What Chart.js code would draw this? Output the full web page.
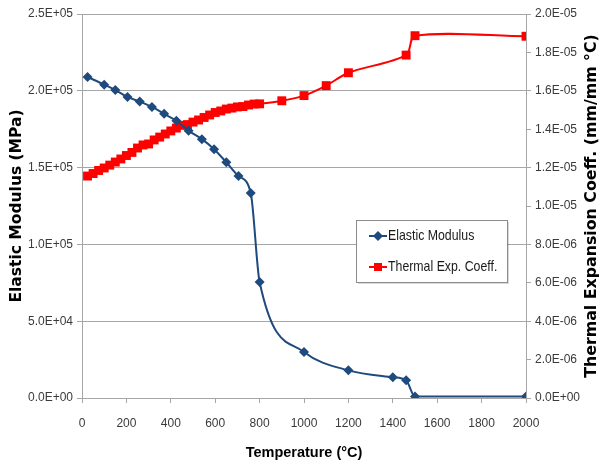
<!DOCTYPE html>
<html>
<head>
<meta charset="utf-8">
<script src="https://cdn.jsdelivr.net/npm/chart.js@4.4.1/dist/chart.umd.min.js"></script>
<style>
  html,body{margin:0;padding:0;background:#fff;}
  #wrap{width:601px;height:468px;}
</style>
</head>
<body>
<div id="wrap"><canvas id="chart" width="601" height="468"></canvas></div>
<script>
// temperature (C) / elastic modulus (MPa)
const modulusTemps = [25, 100, 150, 205, 260, 315, 370, 425, 480, 540, 595, 650, 705, 760, 800, 1000, 1200, 1400, 1460, 1500, 2000];
const modulusValues = [209000, 204000, 200500, 196000, 193000, 189500, 185000, 180500, 174000, 168500, 162000, 153500, 144500, 133500, 75500, 30000, 18000, 13500, 11500, 1000, 1000];

// temperature (C) / thermal expansion coefficient (mm/mm C)
const thermalTemps = [25, 50, 75, 100, 125, 150, 175, 200, 225, 250, 275, 300, 325, 350, 375, 400, 425, 450, 475, 500, 525, 550, 575, 600, 625, 650, 675, 700, 725, 750, 775, 800, 900, 1000, 1100, 1200, 1460, 1500, 2000];
const thermalValues = [1.156e-5, 1.169e-5, 1.185e-5, 1.198e-5, 1.213e-5, 1.229e-5, 1.245e-5, 1.263e-5, 1.279e-5, 1.302e-5, 1.318e-5, 1.323e-5, 1.344e-5, 1.359e-5, 1.375e-5, 1.391e-5, 1.406e-5, 1.420e-5, 1.424e-5, 1.437e-5, 1.448e-5, 1.461e-5, 1.474e-5, 1.487e-5, 1.495e-5, 1.505e-5, 1.510e-5, 1.516e-5, 1.518e-5, 1.526e-5, 1.531e-5, 1.532e-5, 1.548e-5, 1.575e-5, 1.627e-5, 1.694e-5, 1.786e-5, 1.887e-5, 1.884e-5];

const tempTicks = [0, 200, 400, 600, 800, 1000, 1200, 1400, 1600, 1800, 2000];
const tempTickLabels = ['0', '200', '400', '600', '800', '1000', '1200', '1400', '1600', '1800', '2000'];
const modulusTicks = [0, 50000, 100000, 150000, 200000, 250000];
const modulusTickLabels = ['0.0E+00', '5.0E+04', '1.0E+05', '1.5E+05', '2.0E+05', '2.5E+05'];
const thermalTicks = [0, 2e-6, 4e-6, 6e-6, 8e-6, 1e-5, 1.2e-5, 1.4e-5, 1.6e-5, 1.8e-5, 2e-5];
const thermalTickLabels = ['0.0E+00', '2.0E-06', '4.0E-06', '6.0E-06', '8.0E-06', '1.0E-05', '1.2E-05', '1.4E-05', '1.6E-05', '1.8E-05', '2.0E-05'];

const BLUE = '#1f4a7e';
const RED = '#ff0000';
const AXIS_GRAY = '#a6a6a6';
const TICK_FONT = {family: "'Liberation Sans', Arial, sans-serif", size: 12};
const TITLE_FAMILY = "'DejaVu Sans', Verdana, sans-serif";

function toPoints(xs, ys){
     let pts = [];
     for(let i = 0; i < xs.length; i++){ pts.push({x: xs[i], y: ys[i]}); }
     return pts;
}

// right hand title reads bottom-to-top like the left one
const rightTitlePlugin = {
     id: 'rightTitle',
     afterDraw(chart){
          const ctx = chart.ctx;
          const area = chart.chartArea;
          ctx.save();
          ctx.translate(592, (area.top + area.bottom) / 2);
          ctx.rotate(-Math.PI / 2);
          ctx.font = 'bold 15.8px ' + TITLE_FAMILY;
          ctx.fillStyle = '#000';
          ctx.textAlign = 'center';
          ctx.textBaseline = 'middle';
          ctx.fillText('Thermal Expansion Coeff. (mm/mm °C)', 0, 0);
          ctx.restore();
     }
};

// boxed legend sitting inside the plot
const boxLegendPlugin = {
     id: 'boxLegend',
     afterDraw(chart){
          const ctx = chart.ctx;
          const x = 356, y = 220, w = 151, h = 62;
          ctx.save();
          ctx.fillStyle = 'rgba(0,0,0,0.15)';
          ctx.fillRect(x + 2, y + 2, w, h);
          ctx.fillStyle = '#fff';
          ctx.fillRect(x, y, w, h);
          ctx.strokeStyle = '#8c8c8c';
          ctx.lineWidth = 1;
          ctx.strokeRect(x + 0.5, y + 0.5, w, h);
          ctx.textBaseline = 'middle';
          chart.data.datasets.forEach((ds, i) => {
               const cy = y + 16 + i * 31;
               ctx.strokeStyle = ds.borderColor;
               ctx.lineWidth = 2;
               ctx.beginPath();
               ctx.moveTo(369, cy);
               ctx.lineTo(387, cy);
               ctx.stroke();
               ctx.fillStyle = ds.pointBackgroundColor;
               ctx.beginPath();
               if(ds.pointStyle === 'rectRot'){
                    ctx.moveTo(378, cy - 5); ctx.lineTo(383, cy); ctx.lineTo(378, cy + 5); ctx.lineTo(373, cy);
               }else{
                    ctx.rect(374, cy - 4, 8, 8);
               }
               ctx.fill();
               // condensed label text
               ctx.save();
               ctx.translate(388, cy);
               ctx.scale(0.85, 1);
               ctx.font = "14.5px 'Liberation Sans', Arial, sans-serif";
               ctx.fillStyle = '#1a1a1a';
               ctx.fillText(ds.label, 0, 0);
               ctx.restore();
          });
          ctx.restore();
     }
};

const ctx = document.getElementById('chart').getContext('2d');
new Chart(ctx, {
     type: 'line',
     data: {
          datasets: [{
               label: 'Elastic Modulus',
               data: toPoints(modulusTemps, modulusValues),
               yAxisID: 'y',
               borderColor: BLUE,
               backgroundColor: BLUE,
               pointBackgroundColor: BLUE,
               pointBorderColor: BLUE,
               pointStyle: 'rectRot',
               pointRadius: 5,
               pointBorderWidth: 0,
               borderWidth: 2,
               cubicInterpolationMode: 'monotone',
               order: 1
          }, {
               label: 'Thermal Exp. Coeff.',
               data: toPoints(thermalTemps, thermalValues),
               yAxisID: 'y1',
               borderColor: RED,
               backgroundColor: RED,
               pointBackgroundColor: RED,
               pointBorderColor: RED,
               pointStyle: 'rect',
               pointRadius: 6.3,
               pointBorderWidth: 0,
               borderWidth: 2,
               tension: 0.3,
               order: 2
          }]
     },
     options: {
          responsive: false,
          animation: false,
          devicePixelRatio: 1,
          layout: {padding: {top: 14, right: 0, bottom: 0, left: 0}},
          plugins: {
               legend: {display: false},
               tooltip: {enabled: false}
          },
          scales: {
               x: {
                    type: 'linear',
                    min: 0,
                    max: 2000,
                    afterBuildTicks: (s) => { s.ticks = tempTicks.map(v => ({value: v})); },
                    afterFit: (s) => { s.height = 70; },
                    grid: {drawOnChartArea: false, color: AXIS_GRAY, tickLength: 5},
                    border: {color: AXIS_GRAY},
                    ticks: {
                         font: TICK_FONT, color: '#3a3a3a', padding: 13, maxRotation: 0,
                         callback: (v, i) => tempTickLabels[i]
                    },
                    title: {
                         display: true,
                         text: 'Temperature (°C)',
                         font: {family: "'Liberation Sans', Arial, sans-serif", size: 14.5, weight: 'bold'},
                         color: '#000',
                         padding: {bottom: 6}
                    }
               },
               y: {
                    position: 'left',
                    min: 0,
                    max: 250000,
                    afterBuildTicks: (s) => { s.ticks = modulusTicks.map(v => ({value: v})); },
                    afterFit: (s) => { s.width = 82; },
                    grid: {color: AXIS_GRAY, tickLength: 5},
                    border: {color: AXIS_GRAY},
                    ticks: {
                         font: TICK_FONT, color: '#3a3a3a', padding: 4,
                         callback: (v, i) => modulusTickLabels[i]
                    },
                    title: {
                         display: true,
                         text: 'Elastic Modulus (MPa)',
                         font: {family: TITLE_FAMILY, size: 15.5, weight: 'bold'},
                         color: '#000',
                         padding: {top: 8}
                    }
               },
               y1: {
                    position: 'right',
                    min: 0,
                    max: 2e-5,
                    afterBuildTicks: (s) => { s.ticks = thermalTicks.map(v => ({value: v})); },
                    afterFit: (s) => { s.width = 75; },
                    grid: {drawOnChartArea: false, color: AXIS_GRAY, tickLength: 5},
                    border: {color: AXIS_GRAY},
                    ticks: {
                         font: TICK_FONT, color: '#3a3a3a', padding: 4,
                         callback: (v, i) => thermalTickLabels[i]
                    }
               }
          }
     },
     plugins: [rightTitlePlugin, boxLegendPlugin]
});
</script>
</body>
</html>
